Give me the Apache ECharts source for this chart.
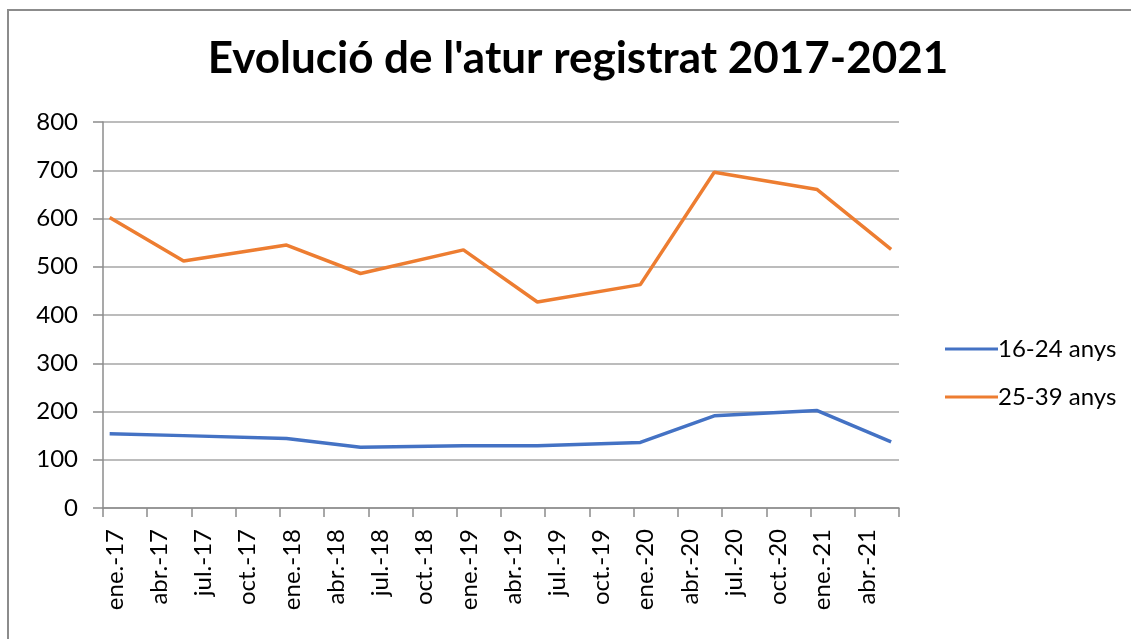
<!DOCTYPE html>
<html>
<head>
<meta charset="utf-8">
<script src="https://cdn.jsdelivr.net/npm/echarts@6/dist/echarts.min.js"></script>
<style>
html,body{margin:0;padding:0;background:#fff;}
#chart{width:1131px;height:639px;}
</style>
</head>
<body>
<div id="chart"></div>
<script>
// Data
const dates = ['2017-01-15','2017-06-15','2018-01-15','2018-06-15','2019-01-15','2019-06-15','2020-01-15','2020-06-15','2021-01-15','2021-06-15'];
const youth = [154, 150, 144, 126, 129, 129, 136, 191, 202, 137];
const adults = [602, 512, 545, 486, 535, 427, 463, 696, 660, 536];
const tickLabels = ['ene.-17','abr.-17','jul.-17','oct.-17','ene.-18','abr.-18','jul.-18','oct.-18','ene.-19','abr.-19','jul.-19','oct.-19','ene.-20','abr.-20','jul.-20','oct.-20','ene.-21','abr.-21'];
const seriesNames = ['16-24 anys','25-39 anys'];

// convert date to month offset from Jan 2017
function monthPos(s){
  const [y,m,d] = s.split('-').map(Number);
  const dim = new Date(y, m, 0).getDate();
  return (y-2017)*12 + (m-1) + (d-1)/dim;
}
const xs = dates.map(monthPos);

const font = 'Lato, "Open Sans", sans-serif';
const chart = echarts.init(document.getElementById('chart'));
chart.setOption({
  animation:false,
  backgroundColor:'#fff',
  title:{
    text:"Evolució de l'atur registrat 2017-2021",
    left:573, top:32, textAlign:'center',
    textStyle:{fontFamily:font, fontWeight:'bold', fontSize:44, color:'#000'}
  },
  graphic:[{type:'rect', shape:{x:8, y:10, width:1200, height:700}, style:{fill:'none', stroke:'#8c8c8c', lineWidth:2}, silent:true, z:-1}],
  grid:{left:103, right:232, top:122, height:386},
  legend:{
    orient:'vertical', left:940, top:331,
    itemWidth:53, itemHeight:3, itemGap:22, icon:'rect',
    textStyle:{fontFamily:font, fontSize:24, color:'#000', lineHeight:26, padding:[0,0,0,-5]},
    data:seriesNames
  },
  xAxis:{
    type:'value', min:0, max:54, interval:3,
    axisLine:{lineStyle:{color:'#8c8c8c', width:1.5}},
    axisTick:{show:true, length:9, lineStyle:{color:'#8c8c8c', width:1.5}},
    splitLine:{show:false},
    axisLabel:{rotate:90, margin:21, fontFamily:font, fontSize:24, color:'#000',
      verticalAlign:'top', lineHeight:24,
      showMaxLabel:true,
      formatter:function(v){ const i = Math.round(v/3); return tickLabels[i] || ''; }}
  },
  yAxis:{
    type:'value', min:0, max:800, interval:100,
    axisLine:{show:true, lineStyle:{color:'#8c8c8c', width:1.5}},
    axisTick:{show:true, length:10, lineStyle:{color:'#8c8c8c', width:1.5}},
    splitLine:{lineStyle:{color:'#a6a6a6', width:1.5}},
    axisLabel:{margin:25, fontFamily:font, fontSize:24, color:'#000'}
  },
  series:[
    {name:seriesNames[0], type:'line', data:xs.map((x,i)=>[x,youth[i]]), showSymbol:false, symbol:'none',
     lineStyle:{color:'#4472C4', width:3.5}, itemStyle:{color:'#4472C4'}},
    {name:seriesNames[1], type:'line', data:xs.map((x,i)=>[x,adults[i]]), showSymbol:false, symbol:'none',
     lineStyle:{color:'#ED7D31', width:3.5}, itemStyle:{color:'#ED7D31'}}
  ]
});
</script>
</body>
</html>
